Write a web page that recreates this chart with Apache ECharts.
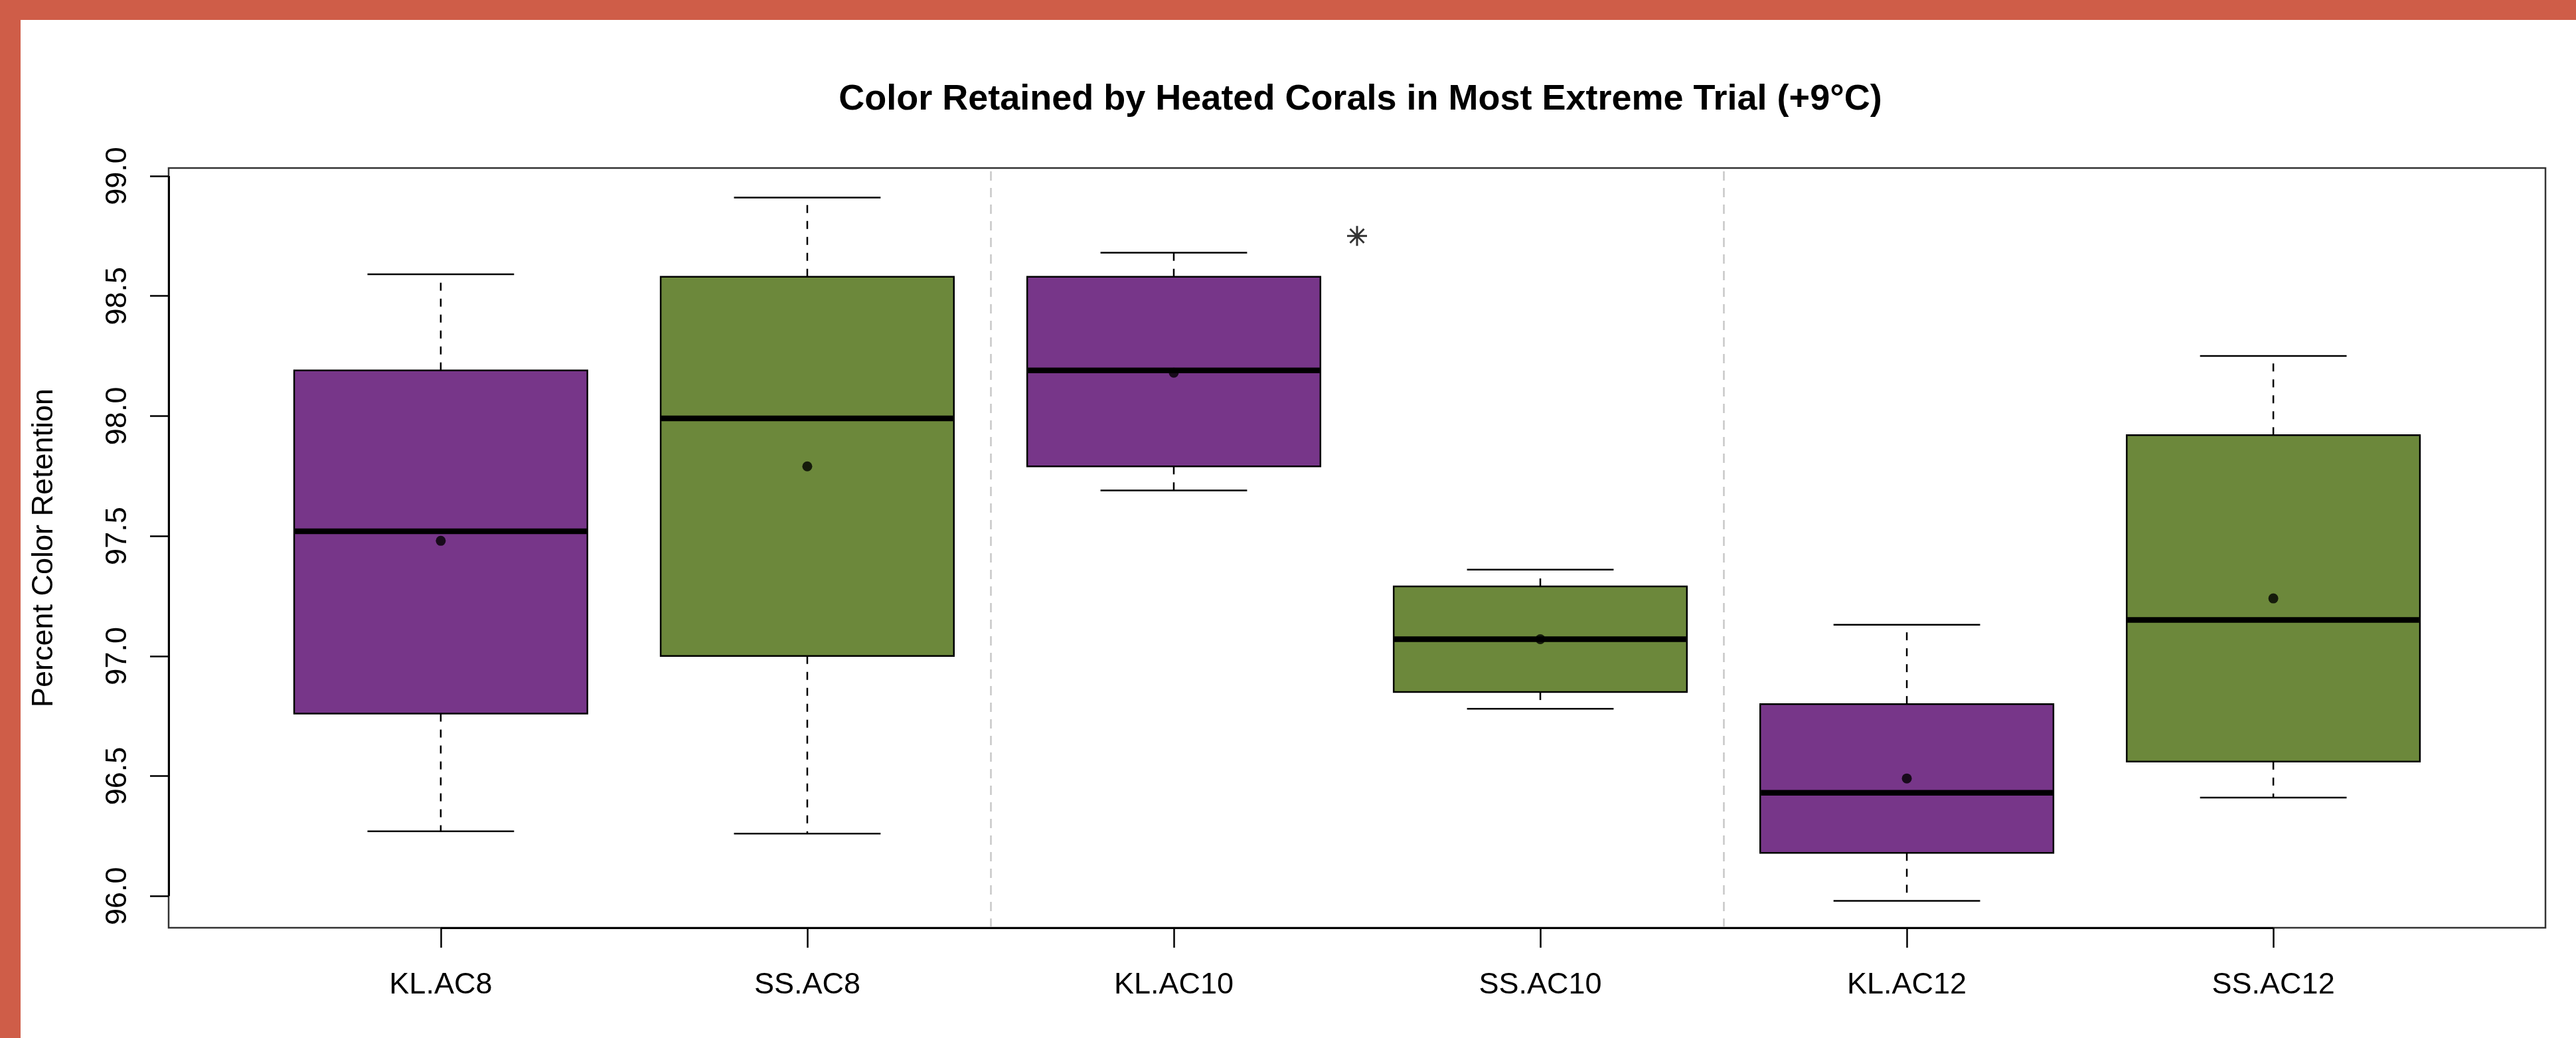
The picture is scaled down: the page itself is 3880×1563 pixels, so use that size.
<!DOCTYPE html>
<html>
<head>
<meta charset="utf-8">
<title>Color Retained by Heated Corals</title>
<script src="https://cdn.jsdelivr.net/npm/echarts@6/dist/echarts.min.js"></script>
<style>
  html, body { margin: 0; padding: 0; background: #ffffff; }
  #chart { width: 3880px; height: 1563px; }
</style>
</head>
<body>
<div id="chart"></div>
<script>
// Coral groups (species x acclimation temperature)
const categories = ['KL.AC8', 'SS.AC8', 'KL.AC10', 'SS.AC10', 'KL.AC12', 'SS.AC12'];

// Five-number summaries of percent colour retained at +9°C
const whiskerLow  = [96.27, 96.26, 97.69, 96.78, 95.98, 96.41];
const lowerQuart  = [96.76, 97.00, 97.79, 96.85, 96.18, 96.56];
const medians     = [97.52, 97.99, 98.19, 97.07, 96.43, 97.15];
const upperQuart  = [98.19, 98.58, 98.58, 97.29, 96.80, 97.92];
const whiskerHigh = [98.59, 98.91, 98.68, 97.36, 97.13, 98.25];

// Group means (dots)
const means = [97.48, 97.79, 98.18, 97.07, 96.49, 97.24];

// Significance star between KL.AC10 and SS.AC10
const starPoint = [3.5, 98.75];

// Temperature-group dividers on the x scale
const groupDividers = [2.5, 4.5];

// Y tick labels
const yTicks = [96.0, 96.5, 97.0, 97.5, 98.0, 98.5, 99.0];

const fillColors = ['#773689', '#6C883B', '#773689', '#6C883B', '#773689', '#6C883B'];

const X_MIN = 0.2575, X_MAX = 6.7425;
const Y_MIN = 95.868, Y_MAX = 99.033;
const FONT = '"Liberation Sans", Arial, Helvetica, sans-serif';
const xPositions = categories.map((c, i) => i + 1);

const boxData = categories.map((c, i) => [
  i + 1, whiskerLow[i], lowerQuart[i], medians[i], upperQuart[i], whiskerHigh[i]
]);

function renderBox(params, api) {
  const x = api.value(0);
  const pLo = api.coord([x, api.value(1)]);
  const pQ1 = api.coord([x, api.value(2)]);
  const pMed = api.coord([x, api.value(3)]);
  const pQ3 = api.coord([x, api.value(4)]);
  const pHi = api.coord([x, api.value(5)]);
  const half = api.size([0.4, 0])[0];
  const cap = api.size([0.2, 0])[0];
  const cx = pMed[0];
  const ink = { stroke: '#000', lineWidth: 2.5 };
  return {
    type: 'group',
    children: [
      { type: 'line', shape: { x1: cx, y1: pQ3[1], x2: cx, y2: pHi[1] },
        style: Object.assign({ lineDash: [12, 12] }, ink) },
      { type: 'line', shape: { x1: cx, y1: pQ1[1], x2: cx, y2: pLo[1] },
        style: Object.assign({ lineDash: [12, 12] }, ink) },
      { type: 'line', shape: { x1: cx - cap, y1: pHi[1], x2: cx + cap, y2: pHi[1] }, style: ink },
      { type: 'line', shape: { x1: cx - cap, y1: pLo[1], x2: cx + cap, y2: pLo[1] }, style: ink },
      { type: 'rect',
        shape: { x: cx - half, y: pQ3[1], width: 2 * half, height: pQ1[1] - pQ3[1] },
        style: { fill: fillColors[params.dataIndex], stroke: '#000', lineWidth: 2.5 } },
      { type: 'line', shape: { x1: cx - half, y1: pMed[1], x2: cx + half, y2: pMed[1] },
        style: { stroke: '#000', lineWidth: 8.5 } }
    ]
  };
}

const chart = echarts.init(document.getElementById('chart'), null, { renderer: 'canvas' });

chart.setOption({
  animation: false,
  backgroundColor: '#ffffff',
  title: {
    text: 'Color Retained by Heated Corals in Most Extreme Trial (+9°C)',
    left: 2044,
    top: 118,
    textAlign: 'center',
    textStyle: { fontFamily: FONT, fontSize: 54, fontWeight: 'bold', color: '#000' }
  },
  graphic: [
    { type: 'rect', shape: { x: 0, y: 0, width: 3880, height: 30 }, style: { fill: '#CF5D48' }, z: 100 },
    { type: 'rect', shape: { x: 0, y: 0, width: 31, height: 1563 }, style: { fill: '#CF5D48' }, z: 100 }
  ],
  grid: {
    left: 254, right: 46, top: 253, bottom: 166,
    show: true, borderColor: '#333', borderWidth: 2.5, backgroundColor: 'transparent'
  },
  xAxis: {
    type: 'value',
    min: X_MIN, max: X_MAX,
    splitLine: { show: false },
    axisLine: { show: false },
    axisTick: {
      customValues: xPositions, length: 30,
      lineStyle: { color: '#000', width: 2.5 }
    },
    axisLabel: {
      customValues: xPositions,
      formatter: v => categories[Math.round(v) - 1],
      fontFamily: FONT, fontSize: 45, color: '#000', margin: 64
    }
  },
  yAxis: {
    type: 'value',
    min: Y_MIN, max: Y_MAX,
    name: 'Percent Color Retention',
    nameLocation: 'middle',
    nameRotate: 90,
    nameGap: 165,
    nameTextStyle: { fontFamily: FONT, fontSize: 45, color: '#000' },
    splitLine: { show: false },
    axisLine: { show: false },
    axisTick: {
      customValues: yTicks, length: 28,
      lineStyle: { color: '#000', width: 2.5 }
    },
    axisLabel: {
      customValues: yTicks,
      rotate: 90,
      formatter: v => v.toFixed(1),
      fontFamily: FONT, fontSize: 45, color: '#000', margin: 54
    }
  },
  series: [
    {
      name: 'dividers',
      type: 'scatter',
      data: [],
      silent: true,
      markLine: {
        silent: true,
        symbol: ['none', 'none'],
        label: { show: false },
        lineStyle: { color: '#c8c8c8', type: [14, 11], width: 2.5 },
        data: groupDividers.map(v => ({ xAxis: v }))
      }
    },
    {
      name: 'axes',
      type: 'scatter',
      data: [],
      silent: true,
      markLine: {
        silent: true,
        symbol: ['none', 'none'],
        label: { show: false },
        lineStyle: { color: '#000', type: 'solid', width: 3 },
        data: [
          [{ coord: [xPositions[0], Y_MIN] }, { coord: [xPositions[xPositions.length - 1], Y_MIN] }],
          [{ coord: [X_MIN, yTicks[0]] }, { coord: [X_MIN, yTicks[yTicks.length - 1]] }]
        ]
      }
    },
    {
      name: 'boxes',
      type: 'custom',
      renderItem: renderBox,
      encode: { x: 0, y: [1, 2, 3, 4, 5] },
      data: boxData,
      z: 3
    },
    {
      name: 'means',
      type: 'scatter',
      symbol: 'circle',
      symbolSize: 15,
      itemStyle: { color: '#000' },
      data: means.map((m, i) => [i + 1, m]),
      z: 5
    },
    {
      name: 'significance',
      type: 'scatter',
      symbol: 'path://M10 0 L10 20 M0 10 L20 10 M3 3 L17 17 M3 17 L17 3',
      symbolSize: 30,
      itemStyle: { color: 'none', borderColor: '#000', borderWidth: 3 },
      data: [starPoint],
      z: 5
    }
  ]
});
</script>
</body>
</html>
